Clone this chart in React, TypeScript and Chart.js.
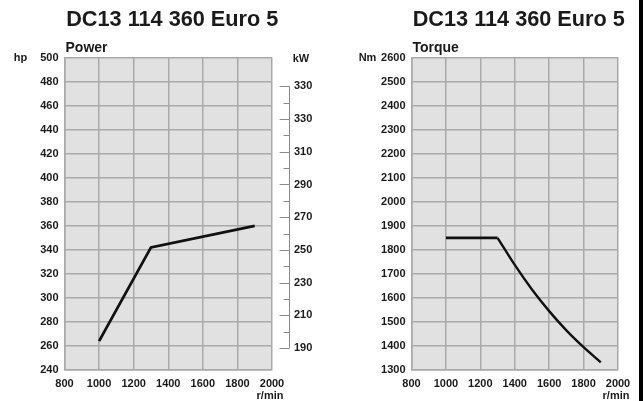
import React, { useEffect, useRef } from 'react';
import { Chart, registerables } from 'chart.js';

Chart.register(...registerables);

// ---------- data ----------
const chartTitle = 'DC13 114 360 Euro 5';
const rpmTicks = [800, 1000, 1200, 1400, 1600, 1800, 2000];
const hpTicks = [240, 260, 280, 300, 320, 340, 360, 380, 400, 420, 440, 460, 480, 500];
const nmTicks = [1300, 1400, 1500, 1600, 1700, 1800, 1900, 2000, 2100, 2200, 2300, 2400, 2500, 2600];
const kwTickValues = [190, 210, 230, 250, 270, 290, 310, 330, 350];
const kwTickLabels = ['190', '210', '230', '250', '270', '290', '310', '330', '330'];
const kwMinorValues = [200, 220, 240, 260, 280, 300, 320, 340];

const powerRpm = [1000, 1300, 1900];
const powerHp = [264, 342, 360];

const torqueFlatRpm = [1000, 1300];
const torqueFlatNm = [1850, 1850];
const torqueCurveRpm = [1300, 1400, 1500, 1600, 1700, 1800, 1900];
const torqueCurveNm = [1850, 1737, 1635, 1545, 1465, 1395, 1332];

// ---------- style ----------
const FONT = "'Liberation Sans', Arial, Helvetica, sans-serif";
const TEXT = '#1a1a1a';
const GRID = '#a9a9a9';
const PLOT_BG = '#e1e1e1';
const LINE = '#111111';
const W = 643;
const H = 401;

const toPts = (xs: number[], ys: number[]) => xs.map((x, i) => ({ x, y: ys[i] }));

const bgPlugin = {
  id: 'plotBg',
  beforeDraw(chart: any) {
    const { ctx, chartArea: a } = chart;
    ctx.save();
    ctx.fillStyle = PLOT_BG;
    ctx.fillRect(a.left, a.top, a.right - a.left, a.bottom - a.top);
    ctx.restore();
  },
};

function makeTextPlugin(sub: string, unit: string, withKw: boolean) {
  return {
    id: 'extraText',
    afterDraw(chart: any) {
      const { ctx, chartArea: a, scales } = chart;
      ctx.save();
      ctx.fillStyle = TEXT;
      // main title
      ctx.font = `bold 21.7px ${FONT}`;
      ctx.textAlign = 'center';
      ctx.textBaseline = 'middle';
      ctx.fillText(chartTitle, (a.left + a.right) / 2 + 4, 20);
      // subtitle
      ctx.font = `bold 14px ${FONT}`;
      ctx.textAlign = 'left';
      ctx.fillText(sub, a.left + 1, a.top - 9);
      // unit
      ctx.font = `bold 11px ${FONT}`;
      ctx.textAlign = 'center';
      ctx.fillText(unit, a.left - 44, a.top);
      // r/min
      const x2000 = scales.x.getPixelForValue(rpmTicks[rpmTicks.length - 1]);
      ctx.fillText('r/min', x2000 - 2, 396);
      if (withKw) {
        ctx.fillText('kW', a.right + 29, a.top + 1);
        const y2 = scales.y2;
        const bx = a.right + 17.5;
        ctx.strokeStyle = '#8a8a8a';
        ctx.lineWidth = 1;
        const top = y2.getPixelForValue(kwTickValues[kwTickValues.length - 1]);
        const bot = y2.getPixelForValue(kwTickValues[0]);
        ctx.beginPath();
        ctx.moveTo(bx, top);
        ctx.lineTo(bx, bot);
        kwTickValues.forEach((v) => {
          const y = Math.round(y2.getPixelForValue(v)) + 0.5;
          ctx.moveTo(bx - 10, y);
          ctx.lineTo(bx, y);
        });
        kwMinorValues.forEach((v) => {
          const y = Math.round(y2.getPixelForValue(v)) + 0.5;
          ctx.moveTo(bx - 6, y);
          ctx.lineTo(bx, y);
        });
        ctx.stroke();
      }
      ctx.restore();
    },
  };
}

const tickFont = { family: FONT, size: 11, weight: 'bold' as const };

function xScale() {
  return {
    type: 'linear' as const,
    min: rpmTicks[0],
    max: rpmTicks[rpmTicks.length - 1],
    afterBuildTicks: (s: any) => {
      s.ticks = rpmTicks.map((v) => ({ value: v }));
    },
    afterFit: (s: any) => {
      s.height = 31;
    },
    grid: { color: GRID, lineWidth: 1.5, drawTicks: false },
    border: { display: true, color: GRID, width: 1.5 },
    ticks: {
      font: tickFont,
      color: TEXT,
      padding: 7,
      maxRotation: 0,
      autoSkip: false,
      callback: (v: any) => String(v),
    },
  };
}

function yScale(ticks: number[], width: number) {
  return {
    type: 'linear' as const,
    position: 'left' as const,
    min: ticks[0],
    max: ticks[ticks.length - 1],
    afterBuildTicks: (s: any) => {
      s.ticks = ticks.map((v) => ({ value: v }));
    },
    afterFit: (s: any) => {
      s.width = width;
    },
    grid: { color: GRID, lineWidth: 1.5, drawTicks: false },
    border: { display: true, color: GRID, width: 1.5 },
    ticks: {
      font: tickFont,
      color: TEXT,
      padding: 6,
      autoSkip: false,
      callback: (v: any) => String(v),
    },
  };
}

function PowerChart() {
  const ref = useRef<HTMLCanvasElement>(null);
  useEffect(() => {
    const chart = new Chart(ref.current as HTMLCanvasElement, {
      type: 'line',
      data: {
        datasets: [
          {
            data: toPts(powerRpm, powerHp),
            borderColor: LINE,
            borderWidth: 2.8,
            pointRadius: 0,
            tension: 0,
            yAxisID: 'y',
          },
        ],
      },
      options: {
        animation: false,
        responsive: false,
        maintainAspectRatio: false,
        layout: { padding: { left: 0, top: 57.5, right: 322, bottom: 0 } },
        plugins: { legend: { display: false }, tooltip: { enabled: false }, title: { display: false } },
        scales: {
          x: xScale(),
          y: yScale(hpTicks, 64.5),
          y2: {
            type: 'linear',
            position: 'right',
            min: 176.5,
            max: 367.7,
            afterBuildTicks: (s: any) => {
              s.ticks = kwTickValues.map((v) => ({ value: v }));
            },
            afterFit: (s: any) => {
              s.width = 49;
            },
            grid: { display: false, drawOnChartArea: false, drawTicks: false },
            border: { display: false },
            ticks: {
              font: tickFont,
              color: TEXT,
              padding: 22,
              autoSkip: false,
              callback: (v: any) => kwTickLabels[kwTickValues.indexOf(v)] ?? '',
            },
          },
        },
      } as any,
      plugins: [bgPlugin, makeTextPlugin('Power', 'hp', true)],
    });
    return () => chart.destroy();
  }, []);
  return <canvas ref={ref} width={W} height={H} style={{ position: 'absolute', left: 0, top: 0, width: W, height: H }} />;
}

function TorqueChart() {
  const ref = useRef<HTMLCanvasElement>(null);
  useEffect(() => {
    const chart = new Chart(ref.current as HTMLCanvasElement, {
      type: 'line',
      data: {
        datasets: [
          {
            data: toPts(torqueFlatRpm, torqueFlatNm),
            borderColor: LINE,
            borderWidth: 2.8,
            pointRadius: 0,
            tension: 0,
          },
          {
            data: toPts(torqueCurveRpm, torqueCurveNm),
            borderColor: LINE,
            borderWidth: 2.4,
            pointRadius: 0,
            cubicInterpolationMode: 'monotone',
          },
        ],
      },
      options: {
        animation: false,
        responsive: false,
        maintainAspectRatio: false,
        layout: { padding: { left: 321, top: 57.5, right: 25, bottom: 0 } },
        plugins: { legend: { display: false }, tooltip: { enabled: false }, title: { display: false } },
        scales: {
          x: xScale(),
          y: yScale(nmTicks, 90.5),
        },
      } as any,
      plugins: [bgPlugin, makeTextPlugin('Torque', 'Nm', false)],
    });
    return () => chart.destroy();
  }, []);
  return <canvas ref={ref} width={W} height={H} style={{ position: 'absolute', left: 0, top: 0, width: W, height: H }} />;
}

export default function App() {
  return (
    <div style={{ position: 'fixed', left: 0, top: 0, width: W, height: H, background: '#ffffff', overflow: 'hidden' }}>
      <PowerChart />
      <TorqueChart />
      <div style={{ position: 'absolute', left: 639, top: 0, width: 4, height: H, background: '#000' }} />
    </div>
  );
}
